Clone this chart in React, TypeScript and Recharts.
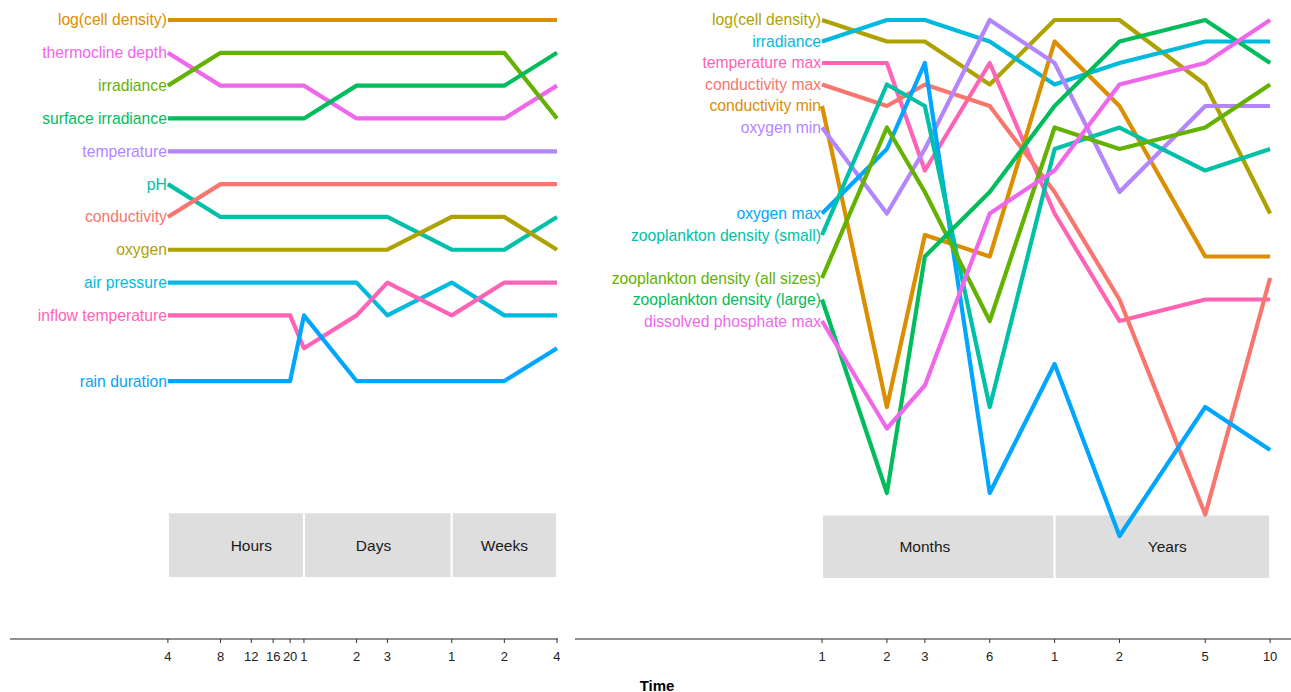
import React from 'react'
import {
  LineChart,
  Line,
  XAxis,
  YAxis,
  ReferenceArea,
  ReferenceDot,
} from 'recharts'

// time points (hours for the short panel, months for the long panel)
const hourTimes = [4, 8, 12, 16, 20, 24, 48, 72, 168, 336, 672]
const hourTickLabels = ['4', '8', '12', '16', '20', '1', '2', '3', '1', '2', '4']
const monthTimes = [1, 2, 3, 6, 12, 24, 60, 120]
const monthTickLabels = ['1', '2', '3', '6', '1', '2', '5', '10']

// rank of each driver at each time point (1 = most important)
const shortLogCellDensity = [1, 1, 1, 1, 1, 1, 1, 1, 1, 1, 1]
const shortThermoclineDepth = [2, 3, 3, 3, 3, 3, 4, 4, 4, 4, 3]
const shortIrradiance = [3, 2, 2, 2, 2, 2, 2, 2, 2, 2, 4]
const shortSurfaceIrradiance = [4, 4, 4, 4, 4, 4, 3, 3, 3, 3, 2]
const shortTemperature = [5, 5, 5, 5, 5, 5, 5, 5, 5, 5, 5]
const shortPH = [6, 7, 7, 7, 7, 7, 7, 7, 8, 8, 7]
const shortConductivity = [7, 6, 6, 6, 6, 6, 6, 6, 6, 6, 6]
const shortOxygen = [8, 8, 8, 8, 8, 8, 8, 8, 7, 7, 8]
const shortAirPressure = [9, 9, 9, 9, 9, 9, 9, 10, 9, 10, 10]
const shortInflowTemperature = [10, 10, 10, 10, 10, 11, 10, 9, 10, 9, 9]
const shortRainDuration = [12, 12, 12, 12, 12, 10, 12, 12, 12, 12, 11]

const longLogCellDensity = [1, 2, 2, 4, 1, 1, 4, 10]
const longIrradiance = [2, 1, 1, 2, 4, 3, 2, 2]
const longTemperatureMax = [3, 3, 8, 3, 10, 15, 14, 14]
const longConductivityMax = [4, 5, 4, 5, 9, 14, 24, 13]
const longConductivityMin = [5, 19, 11, 12, 2, 5, 12, 12]
const longOxygenMin = [6, 10, 7, 1, 3, 9, 5, 5]
const longOxygenMax = [10, 7, 3, 23, 17, 25, 19, 21]
const longZooSmall = [11, 4, 5, 19, 7, 6, 8, 7]
const longZooAll = [13, 6, 9, 15, 6, 7, 6, 4]
const longZooLarge = [14, 23, 12, 9, 5, 2, 1, 3]
const longPhosphateMax = [15, 20, 18, 10, 8, 4, 3, 1]

// time-scale strips
const shortStripNames = ['Hours', 'Days', 'Weeks']
const shortStripBounds = [[4, 24], [24, 168], [168, 672]]
const shortStripLabelAt = [12, 60, 336]
const longStripNames = ['Months', 'Years']
const longStripBounds = [[1, 12], [12, 120]]
const longStripLabelAt = [3, 40]

const C = {
  red: '#F8766D',
  orange: '#DB8E00',
  olive: '#AEA200',
  lime: '#64B200',
  green: '#00BD5C',
  teal: '#00C1A7',
  cyan: '#00BADE',
  blue: '#00A6FF',
  purple: '#B385FF',
  magenta: '#EF67EB',
  pink: '#FF63B6',
}

interface Series {
  key: string
  name: string
  color: string
  ranks: number[]
}

const shortSeries: Series[] = [
  { key: 'a', name: 'log(cell density)', color: C.orange, ranks: shortLogCellDensity },
  { key: 'b', name: 'thermocline depth', color: C.magenta, ranks: shortThermoclineDepth },
  { key: 'c', name: 'irradiance', color: C.lime, ranks: shortIrradiance },
  { key: 'd', name: 'surface irradiance', color: C.green, ranks: shortSurfaceIrradiance },
  { key: 'e', name: 'temperature', color: C.purple, ranks: shortTemperature },
  { key: 'f', name: 'pH', color: C.teal, ranks: shortPH },
  { key: 'g', name: 'conductivity', color: C.red, ranks: shortConductivity },
  { key: 'h', name: 'oxygen', color: C.olive, ranks: shortOxygen },
  { key: 'i', name: 'air pressure', color: C.cyan, ranks: shortAirPressure },
  { key: 'j', name: 'inflow temperature', color: C.pink, ranks: shortInflowTemperature },
  { key: 'k', name: 'rain duration', color: C.blue, ranks: shortRainDuration },
]

const longSeries: Series[] = [
  { key: 'a', name: 'log(cell density)', color: C.olive, ranks: longLogCellDensity },
  { key: 'b', name: 'irradiance', color: C.cyan, ranks: longIrradiance },
  { key: 'c', name: 'temperature max', color: C.pink, ranks: longTemperatureMax },
  { key: 'd', name: 'conductivity max', color: C.red, ranks: longConductivityMax },
  { key: 'e', name: 'conductivity min', color: C.orange, ranks: longConductivityMin },
  { key: 'f', name: 'oxygen min', color: C.purple, ranks: longOxygenMin },
  { key: 'g', name: 'oxygen max', color: C.blue, ranks: longOxygenMax },
  { key: 'h', name: 'zooplankton density (small)', color: C.teal, ranks: longZooSmall },
  { key: 'i', name: 'zooplankton density (all sizes)', color: C.lime, ranks: longZooAll },
  { key: 'j', name: 'zooplankton density (large)', color: C.green, ranks: longZooLarge },
  { key: 'k', name: 'dissolved phosphate max', color: C.magenta, ranks: longPhosphateMax },
]

const FONT = '"Liberation Sans", Arial, Helvetica, sans-serif'

const buildRows = (times: number[], series: Series[]) =>
  times.map((t, i) => {
    const row: Record<string, number> = { t }
    series.forEach(s => {
      row[s.key] = s.ranks[i]
    })
    return row
  })

// driver name written just left of the first point of each line
const startLabel = (name: string, color: string) => (props: any) => {
  if (props.index !== 0) return null
  return (
    <text
      x={props.x - 1}
      y={props.y}
      dy="0.35em"
      textAnchor="end"
      fill={color}
      fontSize={15.7}
      fontFamily={FONT}
    >
      {name}
    </text>
  )
}

interface PanelProps {
  width: number
  times: number[]
  tickLabels: string[]
  domain: [number, number]
  rankMax: number
  series: Series[]
  stripNames: string[]
  stripBounds: number[][]
  stripLabelAt: number[]
  stripRanks: [number, number]
  marginRight: number
}

const Panel: React.FC<PanelProps> = ({
  width,
  times,
  tickLabels,
  domain,
  rankMax,
  series,
  stripNames,
  stripBounds,
  stripLabelAt,
  stripRanks,
  marginRight,
}) => {
  const rows = buildRows(times, series)
  const tickText = (v: number) => tickLabels[times.indexOf(v)] ?? ''
  return (
    <LineChart
      width={width}
      height={692}
      data={rows}
      margin={{ top: 20, right: marginRight, left: 10, bottom: 0 }}
    >
      <XAxis
        dataKey="t"
        type="number"
        scale="log"
        domain={domain}
        ticks={times}
        interval={0}
        tickFormatter={tickText}
        height={53}
        tickSize={4}
        tickMargin={9}
        axisLine={{ stroke: '#222', strokeWidth: 1.1 }}
        tickLine={{ stroke: '#333' }}
        tick={{ fontSize: 13, fill: '#222', fontFamily: FONT }}
      />
      <YAxis type="number" domain={[1, rankMax]} reversed hide />
      {stripNames.map((n, i) => (
        <ReferenceArea
          key={n}
          x1={stripBounds[i][0]}
          x2={stripBounds[i][1]}
          y1={stripRanks[0]}
          y2={stripRanks[1]}
          fill="#DEDEDE"
          fillOpacity={1}
          stroke="#fff"
          strokeWidth={2}
        />
      ))}
      {stripNames.map((n, i) => (
        <ReferenceDot
          key={n + '-label'}
          x={stripLabelAt[i]}
          y={(stripRanks[0] + stripRanks[1]) / 2}
          r={0}
          fill="none"
          stroke="none"
          label={{
            value: n,
            position: 'center',
            fill: '#1a1a1a',
            fontSize: 15.5,
            fontFamily: FONT,
          }}
        />
      ))}
      {series.map(s => (
        <Line
          key={s.key}
          dataKey={s.key}
          type="linear"
          stroke={s.color}
          strokeWidth={4.2}
          strokeLinejoin="round"
          dot={false}
          activeDot={false}
          isAnimationActive={false}
          label={startLabel(s.name, s.color)}
        />
      ))}
    </LineChart>
  )
}

export default function App() {
  return (
    <div
      style={{
        position: 'absolute',
        left: 0,
        top: 0,
        width: 1291,
        height: 692,
        background: '#fff',
        fontFamily: FONT,
      }}
    >
      <div style={{ position: 'absolute', left: 0, top: 0 }}>
        <Panel
          width={560}
          times={hourTimes}
          tickLabels={hourTickLabels}
          domain={[0.5, 681]}
          rankMax={19.86}
          series={shortSeries}
          stripNames={shortStripNames}
          stripBounds={shortStripBounds}
          stripLabelAt={shortStripLabelAt}
          stripRanks={[16, 18]}
          marginRight={2}
        />
      </div>
      <div style={{ position: 'absolute', left: 565, top: 0 }}>
        <Panel
          width={726}
          times={monthTimes}
          tickLabels={monthTickLabels}
          domain={[0.0714, 150]}
          rankMax={29.79}
          series={longSeries}
          stripNames={longStripNames}
          stripBounds={longStripBounds}
          stripLabelAt={longStripLabelAt}
          stripRanks={[24, 27]}
          marginRight={0}
        />
      </div>
      <div
        style={{
          position: 'absolute',
          left: 657,
          top: 685,
          transform: 'translate(-50%, -50%)',
          fontSize: 15,
          fontWeight: 'bold',
          color: '#000',
        }}
      >
        Time
      </div>
    </div>
  )
}
